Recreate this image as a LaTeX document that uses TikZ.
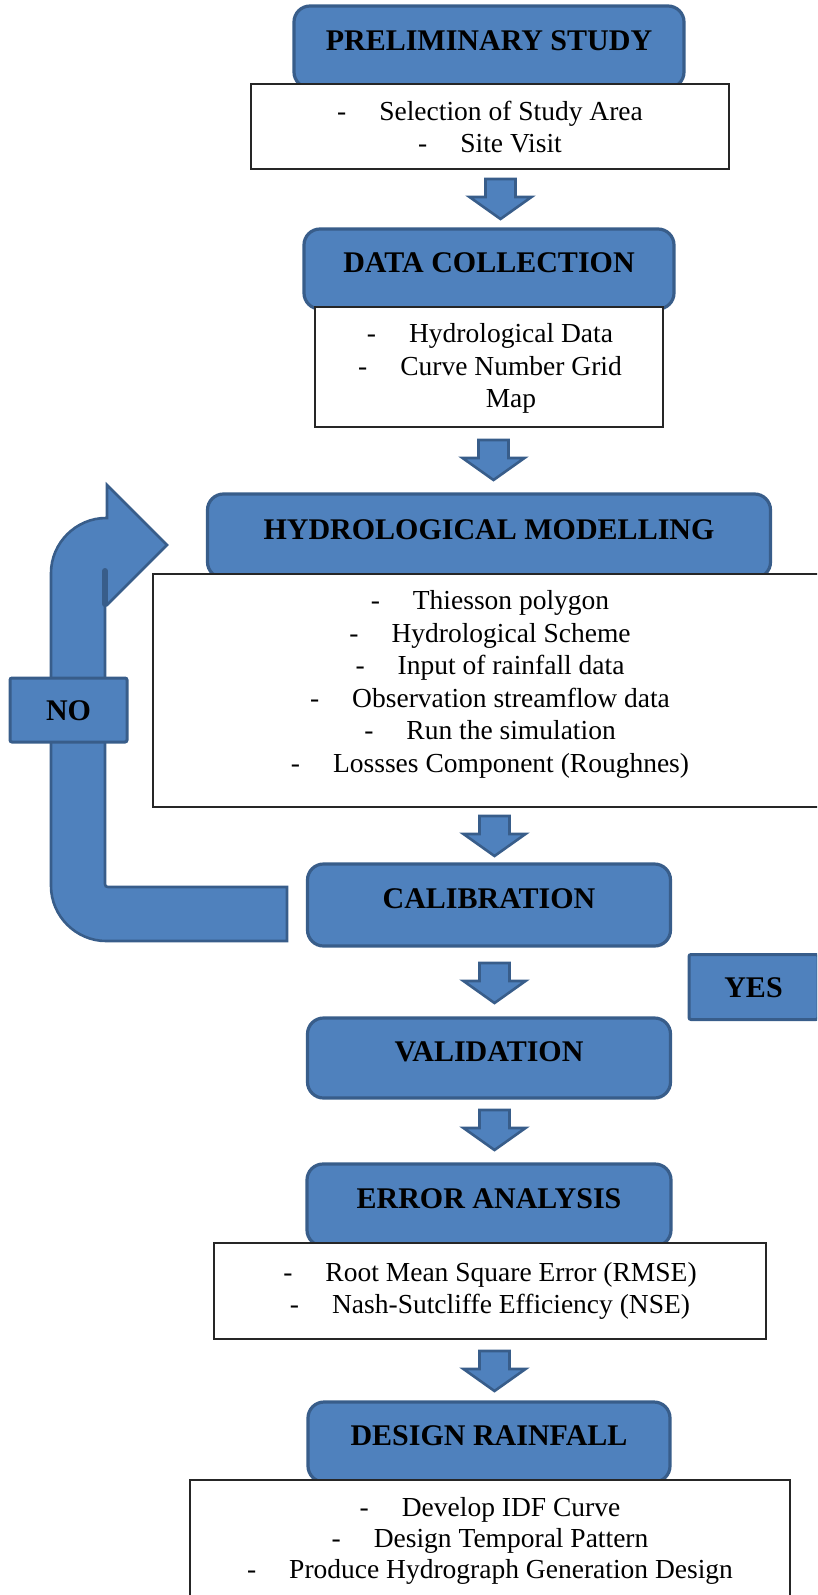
\documentclass[tikz,border=0pt]{standalone}
\usepackage{fontspec}
\setmainfont{Liberation Serif}
\definecolor{boxblue}{HTML}{4F81BD}
\definecolor{boxedge}{HTML}{385D8A}
\newcommand{\mytitlefont}{\fontsize{30}{34}\selectfont\bfseries}
\newcommand{\mybodyfont}{\fontsize{27.5}{31}\selectfont}
\newcommand{\dashgap}{\hspace{33pt}}
\tikzset{
  titlebox/.style={draw=boxedge, line width=3.2pt, fill=boxblue, rounded corners=16pt,
    inner sep=0pt, font=\mytitlefont, text height=20pt, text depth=13pt},
  tagbox/.style={draw=boxedge, line width=3pt, fill=boxblue, rounded corners=2pt,
    inner sep=0pt, font=\mytitlefont, text height=20pt, text depth=0pt},
  listbox/.style={draw=black!85, line width=1.3pt, fill=white, inner sep=0pt},
  itemtext/.style={font=\mybodyfont, anchor=base, inner sep=0pt},
  blockarrow/.style={draw=boxedge, line width=2.6pt, fill=boxblue, line join=miter},
  uturn/.style={draw=boxedge, line width=2.6pt, fill=boxblue, line join=miter}
}
\newcommand{\blockdown}[2]{%
  \draw[blockarrow] ({#1-15},#2) -- ({#1+15},#2) -- ({#1+15},{#2+18}) -- ({#1+31},{#2+18})
    -- (#1,{#2+40}) -- ({#1-31},{#2+18}) -- ({#1-15},{#2+18}) -- cycle;}
\begin{document}
\begin{tikzpicture}[x=1pt,y=-1pt]
\useasboundingbox (0,0) rectangle (817,1595);
\clip (0,0) rectangle (817,1595);

% U-turn arrow (NO loop)
\draw[uturn] (287,941) -- (106,941) .. controls (76,941) and (51,916) .. (51,886)
  -- (51,573) .. controls (51,543) and (76,518) .. (106,518) -- (107,518)
  -- (107,485) -- (167,545) -- (107,605) -- (105,605) -- (105,884)
  .. controls (105,886) and (106,887) .. (108,887) -- (287,887) -- cycle;
\draw[boxedge, line width=6pt, line cap=round] (105,571) -- (105,604);

% title boxes
\node[titlebox, minimum width=390pt, minimum height=82pt] (t1) at (489,47) {PRELIMINARY STUDY};
\node[titlebox, minimum width=370pt, minimum height=80pt] (t2) at (489,269) {DATA COLLECTION};
\node[titlebox, minimum width=563pt, minimum height=84pt] (t3) at (489,536) {HYDROLOGICAL MODELLING};
\node[titlebox, minimum width=363pt, minimum height=82pt] (t4) at (489,905) {CALIBRATION};
\node[titlebox, minimum width=363pt, minimum height=80pt] (t5) at (489,1058) {VALIDATION};
\node[titlebox, minimum width=364pt, minimum height=82pt] (t6) at (489,1205) {ERROR ANALYSIS};
\node[titlebox, minimum width=362pt, minimum height=80pt] (t7) at (489,1442) {DESIGN RAINFALL};

% list boxes
\node[listbox, minimum width=478pt, minimum height=85pt] (w1) at (490,126.5) {};
\node[listbox, minimum width=348pt, minimum height=120pt] (w2) at (489,367) {};
\node[listbox, minimum width=677pt, minimum height=233pt] (w3) at (491.5,690.5) {};
\node[listbox, minimum width=552pt, minimum height=96pt] (w4) at (490,1291) {};
\node[listbox, minimum width=600pt, minimum height=140pt] (w5) at (490,1550) {};

% list texts
\node[itemtext] (w1a) at (490,120) {-\dashgap Selection of Study Area};
\node[itemtext] (w1b) at (490,152) {-\dashgap Site Visit};
\node[itemtext] (w2a) at (490,342) {-\dashgap Hydrological Data};
\node[itemtext] (w2b) at (490,375) {-\dashgap Curve Number Grid};
\node[itemtext] (w2c) at (511,407) {Map};
\node[itemtext] (w3a) at (490,609) {-\dashgap Thiesson polygon};
\node[itemtext] (w3b) at (490,642) {-\dashgap Hydrological Scheme};
\node[itemtext] (w3c) at (490,674) {-\dashgap Input of rainfall data};
\node[itemtext] (w3d) at (490,707) {-\dashgap Observation streamflow data};
\node[itemtext] (w3e) at (490,739) {-\dashgap Run the simulation};
\node[itemtext] (w3f) at (490,772) {-\dashgap Lossses Component (Roughnes)};
\node[itemtext] (w4a) at (490,1281) {-\dashgap Root Mean Square Error (RMSE)};
\node[itemtext] (w4b) at (490,1313) {-\dashgap Nash-Sutcliffe Efficiency (NSE)};
\node[itemtext] (w5a) at (490,1516) {-\dashgap Develop IDF Curve};
\node[itemtext] (w5b) at (490,1547) {-\dashgap Design Temporal Pattern};
\node[itemtext] (w5c) at (490,1578) {-\dashgap Produce Hydrograph Generation Design};

% block arrows
\blockdown{500.5}{179}
\blockdown{493.5}{440}
\blockdown{494.5}{816}
\blockdown{494.5}{963}
\blockdown{494.5}{1110}
\blockdown{494.5}{1351}

% tags
\node[tagbox, minimum width=117pt, minimum height=64pt] (no) at (68.5,710) {NO};
\node[tagbox, minimum width=129pt, minimum height=65pt] (yes) at (753.5,987) {YES};
\end{tikzpicture}
\end{document}
